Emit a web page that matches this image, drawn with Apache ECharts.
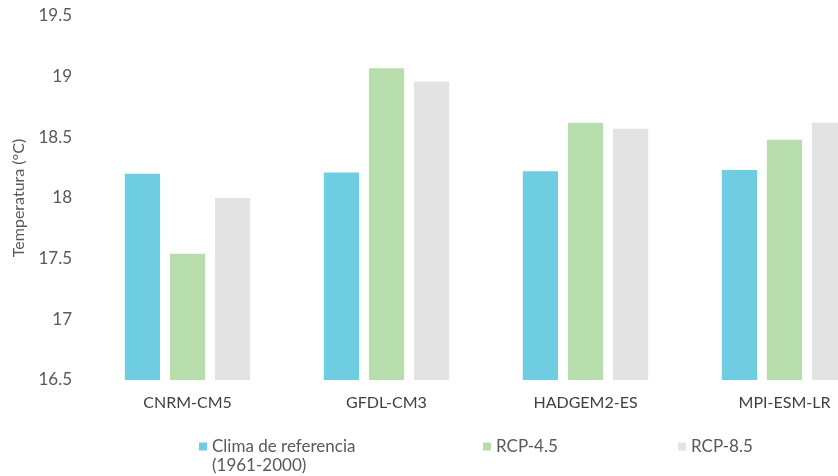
<!DOCTYPE html>
<html>
<head>
<meta charset="utf-8">
<script src="https://cdn.jsdelivr.net/npm/echarts@6/dist/echarts.min.js"></script>
<style>
  html, body { margin: 0; padding: 0; background: #fff; }
  #chart { width: 838px; height: 476px; }
</style>
</head>
<body>
<div id="chart"></div>
<script>
// data
const models = ["CNRM-CM5", "GFDL-CM3", "HADGEM2-ES", "MPI-ESM-LR"];
const refClimate = [18.20, 18.21, 18.22, 18.23];
const rcp45 = [17.54, 19.07, 18.62, 18.48];
const rcp85 = [18.00, 18.96, 18.57, 18.62];

const C = { ref: "#6fcde2", r45: "#b6ddab", r85: "#e3e3e3", label: "#595959", axis: "#404040" };
const FONT = "Lato";

const chart = echarts.init(document.getElementById("chart"), null, { renderer: "canvas" });

const legendBase = {
  orient: "horizontal", icon: "rect", itemWidth: 8, itemHeight: 8, itemGap: 6,
  textStyle: { color: C.label, fontFamily: FONT, fontSize: 17, lineHeight: 19 },
  selectedMode: false
};

chart.setOption({
  animation: false,
  backgroundColor: "#fff",
  // the reference is cropped on the right, so the grid runs past the canvas
  grid: { left: 88, top: 16, width: 796, height: 364, outerBoundsMode: "none" },
  legend: [
    // leading empty line keeps the icon level with the first text line
    { ...legendBase, data: ["Clima de referencia (1961-2000)"], left: 194, top: 413,
      formatter: () => "\nClima de referencia\n(1961-2000)" },
    { ...legendBase, data: ["RCP-4.5"], left: 478, top: 432 },
    { ...legendBase, data: ["RCP-8.5"], left: 673, top: 432 }
  ],
  xAxis: {
    type: "category", data: models,
    axisLine: { show: false }, axisTick: { show: false },
    axisLabel: { color: C.axis, fontFamily: FONT, fontSize: 16, margin: 15 }
  },
  yAxis: {
    type: "value", min: 16.5, max: 19.5, interval: 0.5,
    name: "Temperatura (°C)", nameLocation: "middle", nameGap: 61,
    nameTextStyle: { color: C.label, fontFamily: FONT, fontSize: 16 },
    axisLine: { show: false }, axisTick: { show: false }, splitLine: { show: false },
    axisLabel: { color: C.label, fontFamily: FONT, fontSize: 17, margin: 16 }
  },
  series: [
    { name: "Clima de referencia (1961-2000)", type: "bar", data: refClimate,
      itemStyle: { color: C.ref }, barGap: "28%", barCategoryGap: "37%" },
    { name: "RCP-4.5", type: "bar", data: rcp45, itemStyle: { color: C.r45 } },
    { name: "RCP-8.5", type: "bar", data: rcp85, itemStyle: { color: C.r85 } }
  ]
});
</script>
</body>
</html>
